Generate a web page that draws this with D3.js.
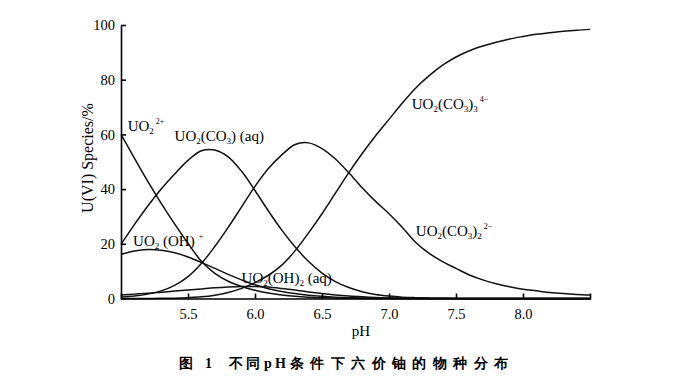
<!DOCTYPE html>
<html><head><meta charset="utf-8">
<script src="https://cdn.jsdelivr.net/npm/d3@7"></script>
<style>
html,body{margin:0;padding:0;background:#fff;}
svg{display:block;}
text{font-family:"Liberation Serif","Times New Roman",serif;fill:#000;}
</style></head>
<body>
<svg id="chart" width="690" height="384"></svg>
<script>
// ---- data ----
const pH = [5.0,5.1,5.2,5.3,5.4,5.5,5.6,5.7,5.8,5.9,6.0,6.1,6.2,6.3,6.4,6.5,6.6,6.7,6.8,6.9,7.0,7.1,7.2,7.3,7.4,7.5,7.6,7.7,7.8,7.9,8.0,8.1,8.2,8.3,8.4,8.5];
const uo2 = [60,51.3,42.8,34.8,27.3,20.2,13.6,9.2,6.3,4.4,3.0,2.0,1.3,0.8,0.5,0.3,0.15,0.08,0.04,0.02,0,0,0,0,0,0,0,0,0,0,0,0,0,0,0,0];
const uo2OH = [16.2,17.4,17.9,17.6,16.7,15.2,13.2,11.0,8.8,6.8,5.0,3.6,2.6,1.8,1.2,0.8,0.5,0.3,0.18,0.1,0.05,0,0,0,0,0,0,0,0,0,0,0,0,0,0,0];
const uo2OH2 = [1.3,1.6,1.9,2.3,2.7,3.1,3.5,3.9,4.2,4.4,4.4,4.2,3.7,3.1,2.4,1.8,1.3,0.9,0.6,0.35,0.2,0.1,0.05,0,0,0,0,0,0,0,0,0,0,0,0,0];
const uo2CO3 = [19.8,27,33.8,40,45.5,50.5,54.0,54.3,51.8,46.5,39.5,32,25,18.8,13.5,9.3,6.2,4.0,2.5,1.5,0.9,0.5,0.3,0.15,0.08,0.04,0,0,0,0,0,0,0,0,0,0];
const uo2CO3_2 = [0.5,0.9,1.6,2.8,4.8,8.0,12.8,19,26,33.5,41,47.5,52.5,56.3,56.9,54.8,51,46,40.5,35.5,31,26,20.5,16.5,13.5,11,8.6,6.8,5.4,4.3,3.4,2.8,2.2,1.8,1.5,1.3];
const uo2CO3_3 = [0,0,0,0.05,0.1,0.3,0.6,1.2,2.2,3.7,5.8,8.5,12.2,17.5,24,31,38.5,46,53,59.5,65.5,71.5,77,81.5,85.3,88.3,90.6,92.3,93.7,94.9,95.8,96.6,97.2,97.7,98.1,98.4];
const xTicks = [5.5,6.0,6.5,7.0,7.5,8.0];
const xTickLabels = ["5.5","6.0","6.5","7.0","7.5","8.0"];
const yTicks = [0,20,40,60,80,100];
const yTickLabels = ["0","20","40","60","80","100"];
const xTitle = "pH";
const yTitle = "U(VI) Species/%";
const captionParts = ["图 1","不同","pH","条件下六价铀的物种分布"];
// label segments: [text, kind]  n=normal, b=subscript, p=superscript
const labelUO2 = [["UO","n"],["2","b"],["2+","p"]];
const labelUO2OH = [["UO","n"],["2","b"],[" (OH)","n"],[" +","p"]];
const labelUO2OH2 = [["UO","n"],["2","b"],["(OH)","n"],["2","b"],[" (aq)","n"]];
const labelCO3 = [["UO","n"],["2","b"],["(CO","n"],["3","b"],[") (aq)","n"]];
const labelCO3_2 = [["UO","n"],["2","b"],["(CO","n"],["3","b"],[")","n"],["2","b"],["2−","p"]];
const labelCO3_3 = [["UO","n"],["2","b"],["(CO","n"],["3","b"],[")","n"],["3","b"],["4−","p"]];

// ---- layout ----
const svg = d3.select("#chart");
svg.append("rect").attr("width",690).attr("height",384).attr("fill","#fff");
const x = d3.scaleLinear().domain([5.0,8.5]).range([121,590]);
const y = d3.scaleLinear().domain([0,100]).range([298.5,25]);

const series = [uo2, uo2OH, uo2OH2, uo2CO3, uo2CO3_2, uo2CO3_3];
const line = d3.line().x((d,i)=>x(pH[i])).y(d=>Math.min(y(d),298.5)).curve(d3.curveCatmullRom.alpha(0.5));
svg.append("g").selectAll("path").data(series).join("path")
  .attr("d", line).attr("fill","none").attr("stroke","#111").attr("stroke-width",1.5);

// axes
const xAxis = d3.axisBottom(x).tickValues(xTicks).tickFormat((d,i)=>xTickLabels[i]).tickSize(-5).tickSizeOuter(-5).tickPadding(10);
const gx = svg.append("g").attr("transform","translate(0,298.5)").call(xAxis);
const yAxis = d3.axisLeft(y).tickValues(yTicks).tickFormat((d,i)=>yTickLabels[i]).tickSize(-5).tickSizeOuter(0).tickPadding(5);
const gy = svg.append("g").attr("transform","translate(121,0)").call(yAxis);
[gx,gy].forEach(g=>{
  g.selectAll("path,line").attr("stroke","#000").attr("stroke-width",1.6);
  g.selectAll("text").attr("font-family","Liberation Serif, serif").attr("font-size",14.5).attr("fill","#000");
});
gy.selectAll(".tick text").attr("dx",-1);

svg.append("text").attr("x",361).attr("y",336).attr("text-anchor","middle").attr("font-size",15).text(xTitle);
svg.append("text").attr("transform","translate(93,158) rotate(-90)").attr("text-anchor","middle")
  .attr("font-size",16).text(yTitle);

// species labels
function drawLabel(segs, px, py){
  const t = svg.append("text").attr("x",x(px)).attr("y",y(py)).attr("font-size",15);
  segs.forEach(([s,k])=>{
    const ts = t.append("tspan").text(s);
    if(k==="b") ts.attr("font-size",9).attr("baseline-shift","-3");
    if(k==="p") ts.attr("font-size",8).attr("baseline-shift","7").attr("dx",2);
  });
}
drawLabel(labelUO2, 5.05, 61.2);
drawLabel(labelCO3, 5.40, 57.6);
drawLabel(labelUO2OH, 5.09, 19.2);
drawLabel(labelUO2OH2, 5.90, 5.7);
drawLabel(labelCO3_3, 7.17, 69.3);
drawLabel(labelCO3_2, 7.20, 22.9);

// caption
const capX = [179,229,264,290];
const capLen = [33,31,22,218];
captionParts.forEach((s,i)=>{
  svg.append("text").attr("x",capX[i]).attr("y",368)
    .attr("font-family","'Noto Sans CJK SC', 'Liberation Serif', serif")
    .attr("font-weight","bold").attr("font-size",14)
    .attr("textLength",capLen[i]).attr("lengthAdjust","spacing").text(s);
});
</script>
</body></html>
